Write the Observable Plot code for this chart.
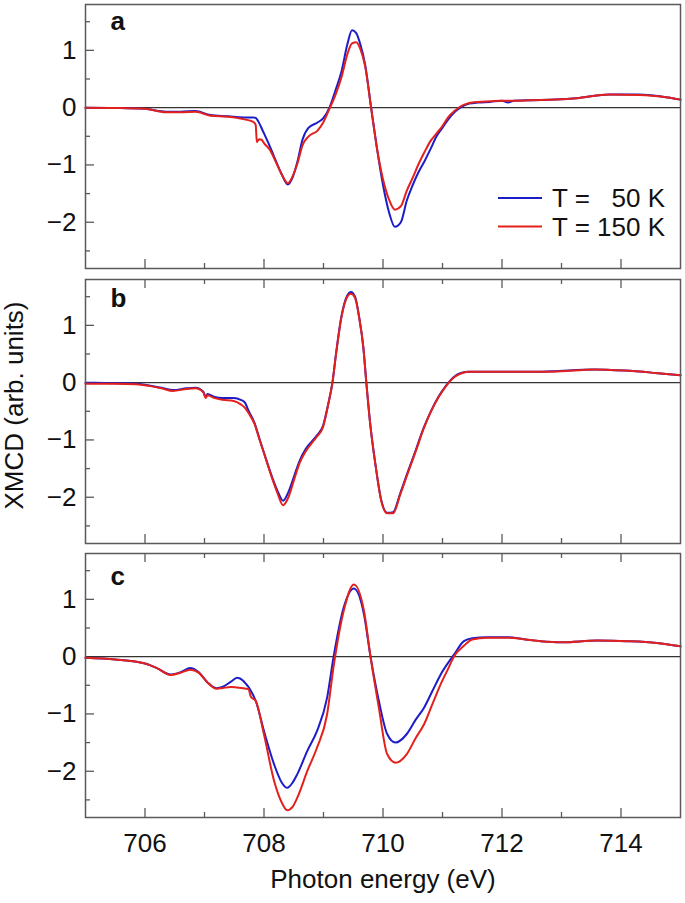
<!DOCTYPE html>
<html><head><meta charset="utf-8">
<script src="https://cdn.jsdelivr.net/npm/d3@7"></script>
<script src="https://cdn.jsdelivr.net/npm/@observablehq/plot@0.6"></script>
<style>
body{margin:0;background:#fff;font-family:"Liberation Sans",Arial,sans-serif;}
#chart{position:relative;width:685px;height:903px;overflow:hidden;}
#chart svg{position:absolute;left:0;}
</style></head><body><div id="chart"></div>
<script>
// ---- tick values ----
const xTicksMajor = [706, 708, 710, 712, 714];
const xTicksMinor = [707, 709, 711, 713];
const yTicksMajor = [-2, -1, 0, 1];
const yTicksMinor = [-2.5, -1.5, -0.5, 0.5, 1.5];
const seriesNames = ["T = \u200750 K", "T = 150 K"];
const panelLetters = ["a", "b", "c"];

// ---- panel a ----
const energyA = [705.0,705.5,706.0,706.35,706.6,706.85,707.1,707.4,707.65,707.82,707.86,707.88,707.92,707.96,708.0,708.1,708.2,708.3,708.4,708.48,708.56,708.65,708.75,708.9,709.0,709.1,709.2,709.3,709.4,709.48,709.55,709.62,709.7,709.8,709.9,710.0,710.1,710.2,710.3,710.4,710.5,710.6,710.7,710.8,710.9,711.0,711.1,711.2,711.3,711.45,711.6,711.8,712.0,712.1,712.2,712.5,712.9,713.3,713.8,714.3,714.7,715.0];
const blueA = [0,-0.005,-0.02,-0.07,-0.07,-0.06,-0.13,-0.15,-0.17,-0.17,-0.18,-0.2,-0.27,-0.36,-0.45,-0.68,-0.93,-1.17,-1.34,-1.22,-0.95,-0.55,-0.35,-0.26,-0.18,0.0,0.3,0.62,1.1,1.35,1.3,1.1,0.75,0.0,-0.72,-1.35,-1.82,-2.08,-2.0,-1.62,-1.35,-1.12,-0.93,-0.72,-0.5,-0.35,-0.2,-0.08,0.0,0.07,0.09,0.1,0.12,0.09,0.12,0.13,0.14,0.17,0.23,0.23,0.19,0.14];
const redA = [0,-0.005,-0.02,-0.08,-0.08,-0.07,-0.14,-0.16,-0.2,-0.25,-0.3,-0.6,-0.55,-0.56,-0.62,-0.74,-0.95,-1.17,-1.32,-1.2,-0.98,-0.65,-0.5,-0.4,-0.25,-0.02,0.22,0.52,0.93,1.12,1.14,1.02,0.72,0.0,-0.72,-1.25,-1.6,-1.78,-1.72,-1.45,-1.22,-0.98,-0.77,-0.58,-0.45,-0.32,-0.16,-0.06,0.02,0.08,0.1,0.11,0.12,0.12,0.12,0.13,0.14,0.17,0.23,0.22,0.19,0.14];

// ---- panel b ----
const energyB = [705.0,705.5,705.85,706.28,706.47,706.7,706.85,706.98,707.02,707.05,707.17,707.3,707.49,707.61,707.68,707.74,707.84,707.93,708.03,708.13,708.22,708.32,708.41,708.51,708.6,708.7,708.89,708.99,709.08,709.15,709.21,709.3,709.4,709.46,709.53,709.6,709.67,709.72,709.78,709.88,709.97,710.07,710.17,710.29,710.42,710.55,710.68,710.8,710.93,711.06,711.19,711.31,711.44,712.0,712.5,712.84,713.55,714.06,714.57,715.0];
const blueB = [0,-0.01,-0.02,-0.09,-0.13,-0.1,-0.09,-0.16,-0.25,-0.2,-0.25,-0.27,-0.27,-0.3,-0.35,-0.49,-0.7,-1.0,-1.32,-1.63,-1.87,-2.06,-1.91,-1.62,-1.36,-1.16,-0.92,-0.76,-0.37,0.0,0.5,1.15,1.52,1.58,1.5,1.14,0.61,0.0,-0.67,-1.48,-2.05,-2.27,-2.26,-1.93,-1.55,-1.18,-0.8,-0.51,-0.25,-0.05,0.1,0.17,0.19,0.19,0.19,0.2,0.23,0.21,0.17,0.13];
const redB = [-0.02,-0.02,-0.03,-0.1,-0.145,-0.11,-0.1,-0.17,-0.27,-0.22,-0.27,-0.3,-0.32,-0.38,-0.44,-0.53,-0.72,-1.01,-1.33,-1.65,-1.91,-2.14,-2.0,-1.68,-1.4,-1.2,-0.94,-0.78,-0.38,0.0,0.49,1.13,1.5,1.55,1.48,1.13,0.61,0.0,-0.67,-1.48,-2.06,-2.28,-2.28,-1.95,-1.57,-1.2,-0.81,-0.52,-0.26,-0.06,0.09,0.16,0.19,0.19,0.19,0.19,0.23,0.21,0.17,0.13];

// ---- panel c ----
const energyC = [705.0,705.5,706.0,706.2,706.43,706.6,706.76,706.9,707.05,707.2,707.3,707.44,707.55,707.65,707.7,707.74,707.78,707.86,708.0,708.17,708.3,708.39,708.48,708.56,708.73,708.89,709.06,709.17,709.34,709.51,709.68,709.79,709.93,710.07,710.21,710.4,710.55,710.69,710.83,710.97,711.1,711.19,711.36,711.5,711.75,712.1,712.4,712.65,713.0,713.6,714.1,714.6,715.0];
const blueC = [-0.02,-0.05,-0.12,-0.2,-0.31,-0.27,-0.2,-0.27,-0.45,-0.55,-0.53,-0.44,-0.37,-0.42,-0.48,-0.53,-0.6,-0.77,-1.3,-1.88,-2.2,-2.29,-2.2,-2.05,-1.64,-1.3,-0.72,0.0,0.86,1.19,0.74,0.0,-0.77,-1.35,-1.5,-1.35,-1.1,-0.89,-0.6,-0.31,-0.1,0.03,0.27,0.32,0.34,0.34,0.3,0.27,0.25,0.28,0.27,0.24,0.18];
const redC = [-0.02,-0.05,-0.12,-0.2,-0.32,-0.28,-0.23,-0.28,-0.45,-0.56,-0.55,-0.53,-0.54,-0.55,-0.56,-0.57,-0.7,-0.77,-1.36,-2.17,-2.55,-2.68,-2.62,-2.46,-1.99,-1.59,-1.01,-0.17,0.8,1.26,0.8,0.0,-0.89,-1.7,-1.85,-1.7,-1.42,-1.18,-0.83,-0.48,-0.2,0.0,0.19,0.3,0.33,0.33,0.3,0.27,0.25,0.28,0.27,0.24,0.18];

// ---- styling ----
const BLUE = "#1c1cc8", RED = "#e3201b", FRAME = "#5a5a5a";
const FONT = "Liberation Sans, Arial, Helvetica, sans-serif";
const FS = 26;
const W = 685, ML = 85, MR = 5, FH = 264, FW = W - ML - MR;
const xDomain = [705, 715], yDomain = [1.8 - FH / 57.3, 1.8];
const fmtY = d => d === 0 ? "0" : d < 0 ? "\u2212" + (-d) : String(d);

function panel({E, blue, red, letter, letterDy, top, mb, topTicks, bottomLabels, yLabel}) {
  const rows = E.map((e, i) => ({e, b: blue[i], r: red[i]}));
  const marks = [
    Plot.tickX(xTicksMajor, {insetTop: FH - 9, stroke: FRAME, strokeWidth: 1.3}),
    Plot.tickX(xTicksMinor, {insetTop: FH - 5, stroke: FRAME, strokeWidth: 1.3}),
    Plot.tickY(yTicksMajor, {insetRight: FW - 9, stroke: FRAME, strokeWidth: 1.3}),
    Plot.tickY(yTicksMinor, {insetRight: FW - 5, stroke: FRAME, strokeWidth: 1.3}),
    Plot.ruleY([0], {stroke: "#333", strokeWidth: 1.4}),
    Plot.line(rows, {x: "e", y: "b", stroke: BLUE, strokeWidth: 2, curve: "monotone-x"}),
    Plot.line(rows, {x: "e", y: "r", stroke: RED, strokeWidth: 2, curve: "monotone-x"}),
    Plot.frame({stroke: FRAME, strokeWidth: 1.5}),
    Plot.axisY(yTicksMajor, {tickSize: 0, tickPadding: 9, fontSize: FS, label: null, fill: "#111", tickFormat: fmtY}),
    Plot.text([letter], {frameAnchor: "top-left", textAnchor: "start", lineAnchor: "top", dx: 25, dy: letterDy, fontSize: FS, fontWeight: "bold", fill: "#111"})
  ];
  if (topTicks) {
    marks.push(Plot.tickX(xTicksMajor, {insetBottom: FH - 9, stroke: FRAME, strokeWidth: 1.3}));
    marks.push(Plot.tickX(xTicksMinor, {insetBottom: FH - 5, stroke: FRAME, strokeWidth: 1.3}));
  }
  if (bottomLabels) {
    marks.push(Plot.axisX(xTicksMajor, {tickSize: 0, tickPadding: 16, fontSize: FS, label: null, fill: "#111"}));
    marks.push(Plot.text(["Photon energy (eV)"], {frameAnchor: "bottom", dy: 70, fontSize: FS, fill: "#111"}));
  }
  if (yLabel) {
    marks.push(Plot.text([yLabel], {frameAnchor: "left", textAnchor: "middle", rotate: -90, dx: -71, dy: -6, fontSize: FS, fill: "#111"}));
  }
  const svg = Plot.plot({
    width: W, height: 4 + FH + mb,
    marginTop: 4, marginBottom: mb, marginLeft: ML, marginRight: MR,
    x: {domain: xDomain, axis: bottomLabels ? undefined : null},
    y: {domain: yDomain},
    style: {fontFamily: FONT, fontSize: FS + "px", background: "transparent", overflow: "visible"},
    marks
  });
  svg.style.top = top + "px";
  return svg;
}

const chart = document.getElementById("chart");
chart.append(panel({E: energyA, blue: blueA, red: redA, letter: panelLetters[0], letterDy: 7.5, top: 0, mb: 4, topTicks: false}));
chart.append(panel({E: energyB, blue: blueB, red: redB, letter: panelLetters[1], letterDy: 9, top: 275, mb: 4, topTicks: true, yLabel: "XMCD (arb. units)"}));
chart.append(panel({E: energyC, blue: blueC, red: redC, letter: panelLetters[2], letterDy: 13, top: 549, mb: 86, topTicks: true, bottomLabels: true}));

// ---- legend (overlay in panel a) ----
const leg = d3.create("svg").attr("width", 195).attr("height", 70)
  .style("top", "180px").style("left", "490px")
  .style("font-family", FONT).style("font-size", FS + "px");
[BLUE, RED].forEach((c, i) => {
  const g = leg.append("g").attr("transform", `translate(0,${18 + i * 28.5})`);
  g.append("line").attr("x1", 8).attr("x2", 52).attr("stroke", c).attr("stroke-width", 2);
  g.append("text").attr("x", 62).attr("y", 9).attr("fill", "#111").text(seriesNames[i]);
});
chart.append(leg.node());
</script></body></html>
